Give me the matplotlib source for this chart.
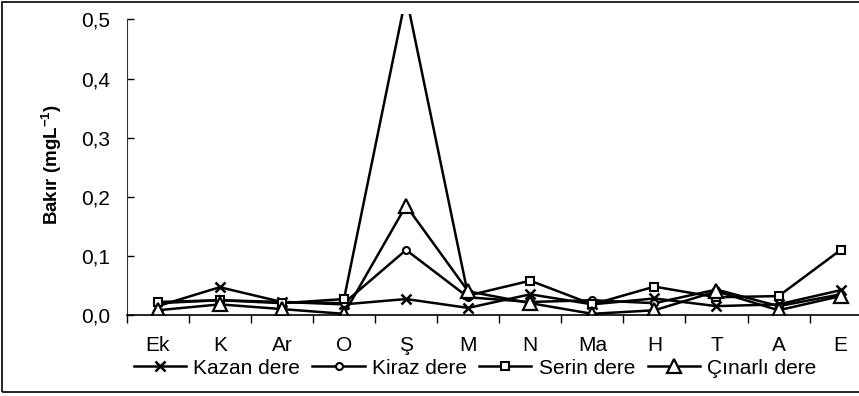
import numpy as np
import matplotlib
matplotlib.use("Agg")
import matplotlib.pyplot as plt
from matplotlib.patches import Rectangle

plt.rcParams['font.family'] = ['Liberation Sans', 'DejaVu Sans']
plt.rcParams['mathtext.default'] = 'regular'

# aylar
aylar = ['Ek', 'K', 'Ar', 'O', 'Ş', 'M', 'N', 'Ma', 'H', 'T', 'A', 'E']
kazan = [0.015, 0.047, 0.022, 0.018, 0.027, 0.012, 0.035, 0.018, 0.028, 0.015, 0.018, 0.042]
kiraz = [0.020, 0.025, 0.022, 0.020, 0.110, 0.030, 0.022, 0.025, 0.020, 0.043, 0.015, 0.035]
serin = [0.022, 0.025, 0.020, 0.027, 0.540, 0.033, 0.058, 0.018, 0.048, 0.030, 0.032, 0.110]
cinarli = [0.008, 0.018, 0.010, 0.002, 0.185, 0.040, 0.020, 0.002, 0.008, 0.040, 0.008, 0.032]
seri_adlari = ['Kazan dere', 'Kiraz dere', 'Serin dere', 'Çınarlı dere']

fig = plt.figure(figsize=(8.59, 3.96), dpi=100)
ax = fig.add_axes([126.7 / 859, 81 / 396, 745 / 859, 301.5 / 396])

x = np.arange(len(aylar))
ax.plot(x, kazan, color='black', lw=1.8, marker='x', ms=7, mew=1.8, label=seri_adlari[0])
ax.plot(x, kiraz, color='black', lw=1.8, marker='o', ms=5, mew=1.5, mfc='white', label=seri_adlari[1])
ax.plot(x, serin, color='black', lw=1.8, marker='s', ms=5.5, mew=1.5, mfc='white', label=seri_adlari[2])
ax.plot(x, cinarli, color='black', lw=1.8, marker='^', ms=10, mew=1.6, mfc='white', label=seri_adlari[3])

ax.set_xlim(-0.5, len(aylar) - 0.5)
ax.set_ylim(0, 0.51)
ax.set_yticks([0, 0.1, 0.2, 0.3, 0.4, 0.5])
ax.set_yticklabels(['0,0', '0,1', '0,2', '0,3', '0,4', '0,5'])
ax.set_xticks(x)
ax.set_xticklabels(aylar)
ax.set_xticks(np.arange(-0.5, len(aylar)), minor=True)
ax.tick_params(axis='x', which='major', length=0, pad=15, labelsize=15)
ax.tick_params(axis='x', which='minor', length=6, width=1, direction='out')
ax.tick_params(axis='y', length=5, width=1, direction='in', pad=12, labelsize=15)
for s in ['top', 'right']:
    ax.spines[s].set_visible(False)
ax.spines['left'].set_bounds(0, 0.5)
ax.spines['left'].set_color('#333333')
ax.spines['bottom'].set_linewidth(1.2)

fig.text(52 / 859, 1 - 165 / 396, r'Bakır (mgL$^{-1}$)', rotation=90, ha='center', va='center',
         fontsize=13.5, fontweight='bold')

fig.legend(loc='center', bbox_to_anchor=(475 / 859, 28 / 396), ncol=4, frameon=False,
           fontsize=15, handlelength=2.5, handletextpad=0.35, columnspacing=0.6,
           borderaxespad=0, borderpad=0)

# cerceve
fig.patches.append(Rectangle((1.5 / 859, 4 / 396), 2, 1 - 5.5 / 396, transform=fig.transFigure,
                             fill=False, edgecolor='black', lw=1.2))

fig.savefig('out.png', dpi=100)
